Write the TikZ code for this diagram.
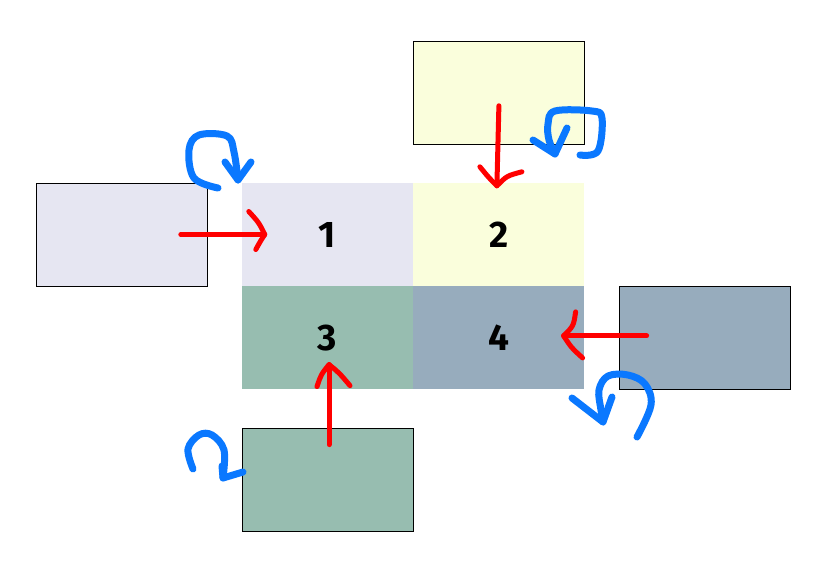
\documentclass[tikz,border=0pt]{standalone}
\usepackage{fontspec}
\setsansfont{Fira Sans}
\usepackage{tikz}
\usetikzlibrary{positioning, calc}

\definecolor{lavender}{HTML}{E6E6F2}
\definecolor{paleyellow}{HTML}{FAFEDC}
\definecolor{sagegreen}{HTML}{97BDB0}
\definecolor{slateblue}{HTML}{97ACBD}
\definecolor{penblue}{HTML}{0A78FF}
\definecolor{penred}{HTML}{FF0000}

\begin{document}
\begin{tikzpicture}[
    x=1pt, y=-1pt,
    node distance=0pt,
    cell/.style={minimum width=171pt, minimum height=103pt, inner sep=0pt,
                 font=\sffamily\bfseries\fontsize{37}{37}\selectfont},
    outer/.style={cell, draw=black, line width=0.8pt},
    redpen/.style={draw=penred, line width=5pt, line cap=round, line join=round},
    bluepen/.style={draw=penblue, line width=7pt, line cap=round, line join=round},
]
\useasboundingbox[fill=white] (0,0) rectangle (823,576);

% Central 2x2 grid
\node[cell, fill=lavender] (c1) at (327.5,234.5) {1};
\node[cell, fill=paleyellow, right=of c1] (c2) {2};
\node[cell, fill=sagegreen, below=of c1] (c3) {3};
\node[cell, fill=slateblue, right=of c3] (c4) {4};

% Outer boxes
\node[outer, fill=lavender, left=34pt of c1] (lbox) {};
\node[outer, fill=paleyellow, above=38pt of c2] (tbox) {};
\node[outer, fill=slateblue, right=34pt of c4] (rbox) {};
\node[outer, fill=sagegreen, below=38pt of c3] (bbox) {};

% Tips of the red arrows
\coordinate (t1) at ($(c1.west)+(23,0)$);
\coordinate (t2) at ($(c2.north)+(-2,3)$);
\coordinate (t3) at ($(c4.east)+(-21,-2)$);
\coordinate (t4) at ($(bbox.north)+(1.5,-63)$);

% Red arrows (hand drawn)
\draw[redpen] ($(lbox.east)+(-27,0)$) -- (t1);
\draw[redpen] ($(t1)+(-16,-23)$) .. controls ($(t1)+(-6,-12)$) .. (t1)
  .. controls ($(t1)+(-4,6)$) .. ($(t1)+(-9,15)$);
\draw[redpen] ($(tbox.south)+(0,-39)$) -- (t2);
\draw[redpen] ($(t2)+(-17,-19)$) .. controls ($(t2)+(-8,-8)$) .. (t2)
  .. controls ($(t2)+(10,-10)$) .. ($(t2)+(25,-14)$);
\draw[redpen] ($(rbox.west)+(28,-2)$) -- (t3);
\draw[redpen] ($(t3)+(12,-24)$) .. controls ($(t3)+(10,-10)$) .. (t3)
  .. controls ($(t3)+(8,12)$) .. ($(t3)+(19,22)$);
\draw[redpen] ($(bbox.north)+(1.5,17)$) -- (t4);
\draw[redpen] ($(t4)+(-12,22)$) .. controls ($(t4)+(-8,10)$) .. (t4)
  .. controls ($(t4)+(10,8)$) .. ($(t4)+(21,21)$);

% Blue curls (hand drawn)
\draw[bluepen] plot[smooth, tension=0.6] coordinates
  {(218,188) (194,178) (189,150) (199,135) (227,136) (234,152) (238,180)};
\draw[bluepen] (225,162) -- (238,180) -- (251,162);

\draw[bluepen] plot[smooth, tension=0.6] coordinates
  {(580,155) (598,151) (602,118) (592,111) (555,111) (548,124) (549,140) (555,154)};
\draw[bluepen] (533,140) -- (555,154) -- (567,128);

\draw[bluepen] plot[smooth, tension=0.6] coordinates
  {(637,437) (651,405) (645,384) (628,375) (608,376) (599,390) (601,410) (603,422)};
\draw[bluepen] (572,398) -- (603,422) -- (612,397);

\draw[bluepen] plot[smooth, tension=0.6] coordinates
  {(193,469) (188,449) (199,435) (212,435) (224,450) (223,478)};
\draw[bluepen] (222,466) -- (223,478) -- (243,472);

\end{tikzpicture}
\end{document}
